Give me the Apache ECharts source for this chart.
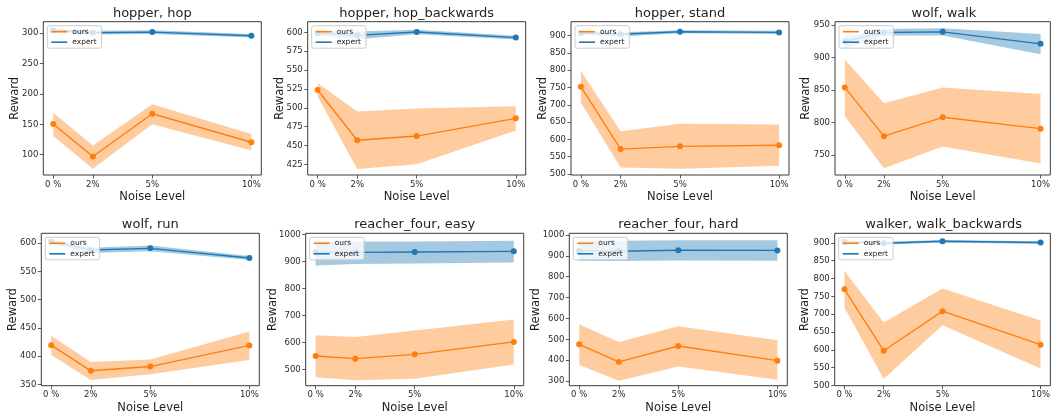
<!DOCTYPE html>
<html><head><meta charset="utf-8">
<script src="https://cdn.jsdelivr.net/npm/echarts@6/dist/echarts.min.js"></script>
<style>html,body{margin:0;padding:0;background:#fff}#c{width:1053px;height:419px}</style>
</head><body><div id="c"></div>
<script>
// ---------- data ----------
const noiseLevels = [0, 2, 5, 10];
const noiseTickLabels = ['0 %', '2%', '5%', '10%'];
const panelTitles = ['hopper, hop', 'hopper, hop_backwards', 'hopper, stand', 'wolf, walk',
  'wolf, run', 'reacher_four, easy', 'reacher_four, hard', 'walker, walk_backwards'];

// hopper, hop
const hopperHopOurs = [150.5, 97, 167.5, 120.5];
const hopperHopOursLow = [131, 77, 150, 107];
const hopperHopOursHigh = [169, 115, 183, 134];
const hopperHopExpert = [305, 301, 302, 296];
const hopperHopExpertLow = [302, 298, 299, 293];
const hopperHopExpertHigh = [308, 304, 305, 299];
const hopperHopRange = [66.6, 319.1];
const hopperHopTicks = [100, 150, 200, 250, 300];

// hopper, hop_backwards
const hopBackOurs = [523.5, 457, 462.5, 486];
const hopBackOursLow = [515, 419, 425, 470];
const hopBackOursHigh = [533, 495, 499, 502];
const hopBackExpert = [599, 596, 600.5, 593];
const hopBackExpertLow = [596, 591, 597.5, 590.5];
const hopBackExpertHigh = [602, 601, 603.5, 595.5];
const hopBackRange = [410.9, 614.1];
const hopBackTicks = [425, 450, 475, 500, 525, 550, 575, 600];

// hopper, stand
const hopperStandOurs = [752.5, 572, 580, 583];
const hopperStandOursLow = [706, 519, 515, 524];
const hopperStandOursHigh = [798, 624, 645.5, 643.5];
const hopperStandExpert = [908, 904, 911.5, 909.5];
const hopperStandExpertLow = [903, 898, 907, 905];
const hopperStandExpertHigh = [913, 910, 916, 914];
const hopperStandRange = [497.1, 940.5];
const hopperStandTicks = [500, 550, 600, 650, 700, 750, 800, 850, 900];

// wolf, walk
const wolfWalkOurs = [854, 779, 808, 790.5];
const wolfWalkOursLow = [810, 729.5, 763, 737];
const wolfWalkOursHigh = [897, 829.5, 854, 844];
const wolfWalkExpert = [925, 938.5, 939.5, 921];
const wolfWalkExpertLow = [914, 934, 934, 905];
const wolfWalkExpertHigh = [932, 944, 945, 936];
const wolfWalkRange = [719.2, 955.1];
const wolfWalkTicks = [750, 800, 850, 900, 950];

// wolf, run
const wolfRunOurs = [419.5, 374, 381.5, 419];
const wolfRunOursLow = [402, 357.5, 368, 393];
const wolfRunOursHigh = [436, 389.5, 394, 443.5];
const wolfRunExpert = [603, 588, 591, 574];
const wolfRunExpertLow = [599, 583, 586, 570.5];
const wolfRunExpertHigh = [607, 592, 596, 577.5];
const wolfRunRange = [347.6, 617.7];
const wolfRunTicks = [350, 400, 450, 500, 550, 600];

// reacher_four, easy
const reacherEasyOurs = [550, 540, 556, 602];
const reacherEasyOursLow = [471, 460, 466, 518];
const reacherEasyOursHigh = [627, 620, 644, 685];
const reacherEasyExpert = [934, 933, 934.5, 937];
const reacherEasyExpertLow = [885, 890, 892, 896];
const reacherEasyExpertHigh = [975, 973, 973, 976.5];
const reacherEasyRange = [440, 1003.7];
const reacherEasyTicks = [500, 600, 700, 800, 900, 1000];

// reacher_four, hard
const reacherHardOurs = [476, 392, 468, 398];
const reacherHardOursLow = [377, 301.5, 369.5, 306];
const reacherHardOursHigh = [572, 487, 563, 495.5];
const reacherHardExpert = [925, 922, 927, 926];
const reacherHardExpertLow = [877, 875, 878, 877];
const reacherHardExpertHigh = [973, 972, 975, 975];
const reacherHardRange = [278, 1008];
const reacherHardTicks = [300, 400, 500, 600, 700, 800, 900, 1000];

// walker, walk_backwards
const walkerBackOurs = [770, 597.5, 708.5, 614.5];
const walkerBackOursLow = [718.5, 518.5, 669, 548];
const walkerBackOursHigh = [821, 676.5, 772.5, 682.5];
const walkerBackExpert = [903, 899, 904.5, 901];
const walkerBackExpertLow = [899, 895, 901, 897];
const walkerBackExpertHigh = [907, 903, 908, 905];
const walkerBackRange = [499.5, 927];
const walkerBackTicks = [500, 550, 600, 650, 700, 750, 800, 850, 900];

const panelData = [
  [hopperHopOurs, hopperHopOursLow, hopperHopOursHigh, hopperHopExpert, hopperHopExpertLow, hopperHopExpertHigh, hopperHopRange, hopperHopTicks],
  [hopBackOurs, hopBackOursLow, hopBackOursHigh, hopBackExpert, hopBackExpertLow, hopBackExpertHigh, hopBackRange, hopBackTicks],
  [hopperStandOurs, hopperStandOursLow, hopperStandOursHigh, hopperStandExpert, hopperStandExpertLow, hopperStandExpertHigh, hopperStandRange, hopperStandTicks],
  [wolfWalkOurs, wolfWalkOursLow, wolfWalkOursHigh, wolfWalkExpert, wolfWalkExpertLow, wolfWalkExpertHigh, wolfWalkRange, wolfWalkTicks],
  [wolfRunOurs, wolfRunOursLow, wolfRunOursHigh, wolfRunExpert, wolfRunExpertLow, wolfRunExpertHigh, wolfRunRange, wolfRunTicks],
  [reacherEasyOurs, reacherEasyOursLow, reacherEasyOursHigh, reacherEasyExpert, reacherEasyExpertLow, reacherEasyExpertHigh, reacherEasyRange, reacherEasyTicks],
  [reacherHardOurs, reacherHardOursLow, reacherHardOursHigh, reacherHardExpert, reacherHardExpertLow, reacherHardExpertHigh, reacherHardRange, reacherHardTicks],
  [walkerBackOurs, walkerBackOursLow, walkerBackOursHigh, walkerBackExpert, walkerBackExpertLow, walkerBackExpertHigh, walkerBackRange, walkerBackTicks]
];

// ---------- layout / style ----------
const gridLefts = [43.3, 307.7, 571, 835, 41.3, 305.7, 569.3, 834.7];
const rowTops = [21.7, 233.3];
const rowHeights = [153.3, 152.4];
const gridWidth = 218;
const titleCenters = [13.3, 225];
const yNameGaps = [22, 21.5, 21.5, 23, 22, 27, 27, 24];
const FONT = 'DejaVu Sans';
const ORANGE = '#ff7f0e', BLUE = '#1f77b4';

const grids = [], xAxes = [], yAxes = [], series = [], titles = [], legends = [];
const pairs = (arr) => noiseLevels.map((x, j) => [x, arr[j]]);

function bandSeries(i, lo, hi, col) {
  return {
    type: 'custom', xAxisIndex: i, yAxisIndex: i, silent: true, z: 1, clip: true,
    data: noiseLevels.map((x, j) => [x, lo[j], hi[j]]),
    encode: { x: 0, y: [1, 2] },
    renderItem: (params, api) => {
      if (params.dataIndex !== 0) return null;
      const n = params.dataInsideLength;
      const upper = [], lower = [];
      for (let k = 0; k < n; k++) {
        upper.push(api.coord([api.value(0, k), api.value(2, k)]));
        lower.push(api.coord([api.value(0, k), api.value(1, k)]));
      }
      return { type: 'polygon', shape: { points: upper.concat(lower.reverse()) },
        style: { fill: col, opacity: 0.4 } };
    }
  };
}

panelData.forEach((p, i) => {
  const [ours, oLo, oHi, exp, eLo, eHi, range, ticks] = p;
  const row = i < 4 ? 0 : 1;
  const left = gridLefts[i], top = rowTops[row], h = rowHeights[row];
  grids.push({ left: left, top: top, width: gridWidth, height: h, show: true,
    borderColor: '#3a3a3a', borderWidth: 1, backgroundColor: 'transparent', containLabel: false });
  titles.push({ text: panelTitles[i], left: left + gridWidth / 2, top: titleCenters[row] - 7.5,
    textAlign: 'center', padding: 0, itemGap: 0,
    textStyle: { fontFamily: FONT, fontSize: 13, fontWeight: 'normal', color: '#1e1e1e', lineHeight: 15 } });
  xAxes.push({ type: 'value', gridIndex: i, min: -0.5, max: 10.5,
    name: 'Noise Level', nameLocation: 'middle', nameGap: 16.5,
    nameTextStyle: { fontFamily: FONT, fontSize: 11.5, color: '#1e1e1e' },
    axisLine: { show: false, onZero: false }, splitLine: { show: false },
    axisTick: { show: true, length: 3.5, lineStyle: { color: '#333', width: 0.8 }, customValues: noiseLevels },
    axisLabel: { customValues: noiseLevels, margin: 5, fontFamily: FONT, fontSize: 8.5, color: '#2a2a2a',
      formatter: (v) => noiseTickLabels[noiseLevels.indexOf(v)] } });
  yAxes.push({ type: 'value', gridIndex: i, min: range[0], max: range[1],
    name: 'Reward', nameLocation: 'middle', nameGap: yNameGaps[i], nameMoveOverlap: false,
    nameTextStyle: { fontFamily: FONT, fontSize: 11.5, color: '#1e1e1e' },
    axisLine: { show: false, onZero: false }, splitLine: { show: false },
    axisTick: { show: true, length: 3.5, lineStyle: { color: '#333', width: 0.8 }, customValues: ticks },
    axisLabel: { customValues: ticks, margin: 5, fontFamily: FONT, fontSize: 8.5, color: '#2a2a2a',
      formatter: (v) => String(v) } });
  series.push(bandSeries(i, oLo, oHi, ORANGE));
  series.push(bandSeries(i, eLo, eHi, BLUE));
  series.push({ type: 'line', name: 'ours', xAxisIndex: i, yAxisIndex: i, data: pairs(ours),
    symbol: 'circle', symbolSize: 6, color: ORANGE, lineStyle: { color: ORANGE, width: 1.4 },
    itemStyle: { color: ORANGE }, z: 3 });
  series.push({ type: 'line', name: 'expert', xAxisIndex: i, yAxisIndex: i, data: pairs(exp),
    symbol: 'circle', symbolSize: 6, color: BLUE, lineStyle: { color: BLUE, width: 1.4 },
    itemStyle: { color: BLUE }, z: 3 });
  legends.push({ data: ['ours', 'expert'], left: left + 4, top: top + 4, orient: 'vertical',
    icon: 'rect', itemWidth: 16, itemHeight: 1.6, itemGap: 2.5, selectedMode: false,
    backgroundColor: 'rgba(255,255,255,0.8)', borderColor: '#cccccc', borderWidth: 1, borderRadius: 2,
    padding: [2, 5, 2, 4],
    textStyle: { fontFamily: FONT, fontSize: 7.5, color: '#222' } });
});

const chart = echarts.init(document.getElementById('c'), null, { renderer: 'canvas' });
chart.setOption({ animation: false, backgroundColor: '#fff', title: titles, grid: grids,
  xAxis: xAxes, yAxis: yAxes, legend: legends, series: series });
</script></body></html>
